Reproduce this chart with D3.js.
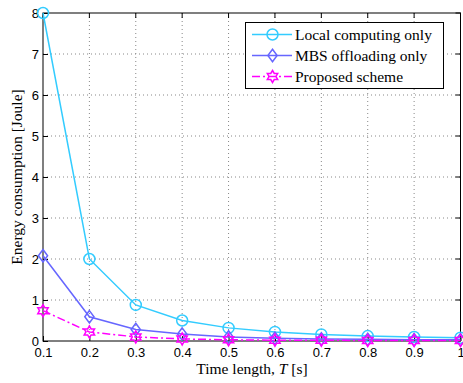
<!DOCTYPE html>
<html>
<head>
<meta charset="utf-8">
<script src="https://cdn.jsdelivr.net/npm/d3@7.9.0/dist/d3.min.js"></script>
<style>
  body { margin: 0; background: #fff; }
  svg { display: block; }
</style>
</head>
<body>
<svg id="chart" width="463" height="383"></svg>
<script>
const timeLength = [0.1, 0.2, 0.3, 0.4, 0.5, 0.6, 0.7, 0.8, 0.9, 1.0];
const localOnly = [8.0, 2.0, 0.88, 0.5, 0.32, 0.22, 0.16, 0.12, 0.1, 0.08];
const mbsOnly = [2.08, 0.59, 0.28, 0.17, 0.1, 0.07, 0.05, 0.04, 0.03, 0.03];
const proposed = [0.74, 0.22, 0.1, 0.05, 0.03, 0.02, 0.02, 0.01, 0.01, 0.01];
const yTicks = [0, 1, 2, 3, 4, 5, 6, 7, 8];
const xTicks = [0.1, 0.2, 0.3, 0.4, 0.5, 0.6, 0.7, 0.8, 0.9, 1];
const seriesNames = ['Local computing only', 'MBS offloading only', 'Proposed scheme'];

const svg = d3.select('#chart');
const mLeft = 43, mRight = 460.5, mTop = 13, mBottom = 341;
const serif = 'Liberation Serif, Times New Roman, serif';

const x = d3.scaleLinear().domain([0.1, 1]).range([mLeft, mRight]);
const y = d3.scaleLinear().domain([0, 8]).range([mBottom, mTop]);

// grid
const grid = svg.append('g').attr('stroke', '#888').attr('stroke-width', 1)
  .attr('stroke-dasharray', '1,3');
xTicks.slice(1, -1).forEach(t => {
  grid.append('line').attr('x1', x(t)).attr('x2', x(t)).attr('y1', mTop).attr('y2', mBottom);
});
yTicks.slice(1, -1).forEach(t => {
  grid.append('line').attr('x1', mLeft).attr('x2', mRight).attr('y1', y(t)).attr('y2', y(t));
});

// axes with inward ticks
const xAxis = svg.append('g').attr('transform', `translate(0,${mBottom})`)
  .call(d3.axisBottom(x).tickValues(xTicks).tickSizeInner(-5).tickSizeOuter(0).tickPadding(7)
    .tickFormat(d => d === 1 ? '1' : d3.format('.1f')(d)));
const yAxis = svg.append('g').attr('transform', `translate(${mLeft},0)`)
  .call(d3.axisLeft(y).tickValues(yTicks).tickSizeInner(-5).tickSizeOuter(0).tickPadding(4));
[xAxis, yAxis].forEach(a => {
  a.select('.domain').remove();
  a.selectAll('text').attr('font-family', 'Liberation Sans, Arial, sans-serif')
    .attr('font-size', 13).attr('fill', '#000');
  a.selectAll('line').attr('stroke', '#000');
});
// top/right ticks
const tt = svg.append('g').attr('stroke', '#000');
xTicks.forEach(t => tt.append('line').attr('x1', x(t)).attr('x2', x(t)).attr('y1', mTop).attr('y2', mTop + 5));
yTicks.forEach(t => tt.append('line').attr('x1', mRight).attr('x2', mRight - 5).attr('y1', y(t)).attr('y2', y(t)));

svg.append('rect').attr('x', mLeft).attr('y', mTop).attr('width', mRight - mLeft).attr('height', mBottom - mTop)
  .attr('fill', 'none').attr('stroke', '#000').attr('stroke-width', 1);

// labels
svg.append('text').attr('x', 252).attr('y', 374).attr('text-anchor', 'middle')
  .attr('font-family', serif).attr('font-size', 15.5)
  .html('Time length, <tspan font-style="italic">T</tspan> [s]');
svg.append('text').attr('transform', `translate(22,${(mTop + mBottom) / 2}) rotate(-90)`)
  .attr('text-anchor', 'middle')
  .attr('font-family', serif).attr('font-size', 15.5)
  .text('Energy consumption [Joule]');

// markers
function hexagram(r) {
  const pts = [];
  for (let i = 0; i < 12; i++) {
    const a = -Math.PI / 2 + i * Math.PI / 6;
    const rr = i % 2 === 0 ? r : r * 0.58;
    pts.push([rr * Math.cos(a), rr * Math.sin(a)]);
  }
  return 'M' + pts.map(p => p.join(',')).join('L') + 'Z';
}
const markers = {
  circle: () => d3.symbol(d3.symbolCircle, Math.PI * 5.5 * 5.5)(),
  diamond: () => 'M0,-6.2L4.6,0L0,6.2L-4.6,0Z',
  hexagram: () => hexagram(6)
};

const series = [
  { name: seriesNames[0], values: localOnly, color: '#33ccff', dash: null, marker: 'circle' },
  { name: seriesNames[1], values: mbsOnly, color: '#6666ff', dash: null, marker: 'diamond' },
  { name: seriesNames[2], values: proposed, color: '#ff00ff', dash: '8,3,2,3', marker: 'hexagram' }
];

const line = d3.line().x((d, i) => x(timeLength[i])).y(d => y(d));
const plot = svg.append('g');
series.forEach(s => {
  plot.append('path').attr('d', line(s.values)).attr('fill', 'none')
    .attr('stroke', s.color).attr('stroke-width', 1.5).attr('stroke-dasharray', s.dash);
  s.values.forEach((v, i) => {
    plot.append('path').attr('d', markers[s.marker]())
      .attr('transform', `translate(${x(timeLength[i])},${y(v)})`)
      .attr('fill', 'none').attr('stroke', s.color).attr('stroke-width', 1.5);
  });
});

// legend
const lg = svg.append('g');
lg.append('rect').attr('x', 245.5).attr('y', 22.5).attr('width', 198).attr('height', 66)
  .attr('fill', '#fff').attr('stroke', '#000');
series.forEach((s, i) => {
  const ly = 34.5 + i * 21;
  lg.append('line').attr('x1', 252).attr('x2', 292).attr('y1', ly).attr('y2', ly)
    .attr('stroke', s.color).attr('stroke-width', 1.5).attr('stroke-dasharray', s.dash);
  lg.append('path').attr('d', markers[s.marker]()).attr('transform', `translate(272.5,${ly})`)
    .attr('fill', 'none').attr('stroke', s.color).attr('stroke-width', 1.5);
  lg.append('text').attr('x', 295).attr('y', ly + 5)
    .attr('font-family', serif).attr('font-size', 15.5)
    .text(s.name);
});
</script>
</body>
</html>
